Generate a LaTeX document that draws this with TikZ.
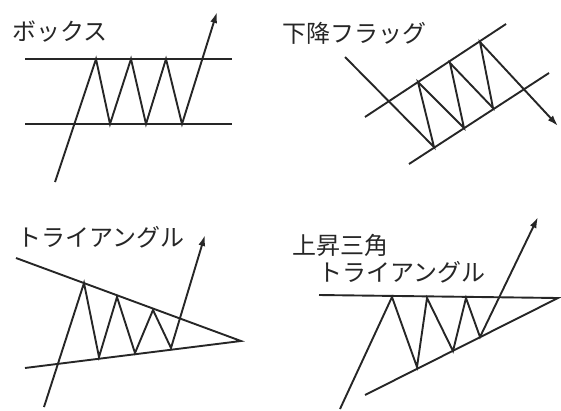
\documentclass[tikz,border=0pt]{standalone}
\usepackage{fontspec}
\newfontfamily\jpfont{Noto Sans CJK JP}
\usetikzlibrary{arrows.meta}
\tikzset{
  ln/.style={line width=1.9pt, draw=black!85},
  zz/.style={line width=1.9pt, draw=black!85, line join=miter},
  arr/.style={-{Latex[length=11pt,width=7pt]}},
  lbl/.style={anchor=west, inner sep=0pt, font=\jpfont\fontsize{24}{29}\selectfont, text=black!85}
}
\begin{document}
\begin{tikzpicture}[x=1pt,y=-1pt]
\useasboundingbox (0,0) rectangle (561,410);
% ---- Box
\node[lbl] (t1) at (12,32) {ボックス};
\coordinate (b1l) at (25,59); \coordinate (b1r) at (232,59);
\coordinate (b2l) at (25,124); \coordinate (b2r) at (232,124);
\draw[ln] (b1l) -- (b1r);
\draw[ln] (b2l) -- (b2r);
\coordinate (a0) at (55,182);
\coordinate (a1) at (96,59);
\coordinate (a2) at (110,124);
\coordinate (a3) at (131,59);
\coordinate (a4) at (146,124);
\coordinate (a5) at (166,59);
\coordinate (a6) at (182,124);
\coordinate (a7) at (217,12);
\draw[zz,arr] (a0) -- (a1) -- (a2) -- (a3) -- (a4) -- (a5) -- (a6) -- (a7);
% ---- Flag
\node[lbl] (t2) at (282,33) {下降フラッグ};
\coordinate (f1l) at (365,117); \coordinate (f1r) at (506,24);
\coordinate (f2l) at (409,164); \coordinate (f2r) at (549,73);
\draw[ln] (f1l) -- (f1r);
\draw[ln] (f2l) -- (f2r);
\coordinate (c0) at (345,57);
\coordinate (c1) at (434,147);
\coordinate (c2) at (418,82);
\coordinate (c3) at (464,128);
\coordinate (c4) at (450,63);
\coordinate (c5) at (493,108);
\coordinate (c6) at (480,42);
\coordinate (c7) at (558,126);
\draw[zz,arr] (c0) -- (c1) -- (c2) -- (c3) -- (c4) -- (c5) -- (c6) -- (c7);
% ---- Triangle
\node[lbl] (t3) at (17,237) {トライアングル};
\coordinate (g1l) at (16,258); \coordinate (gap) at (241,341);
\coordinate (g2l) at (25,368);
\draw[ln] (g1l) -- (gap) -- (g2l);
\coordinate (d0) at (44,407);
\coordinate (d1) at (84,283);
\coordinate (d2) at (99,357);
\coordinate (d3) at (117,297);
\coordinate (d4) at (135,353);
\coordinate (d5) at (153,310);
\coordinate (d6) at (171,348);
\coordinate (d7) at (205,235);
\draw[zz,arr] (d0) -- (d1) -- (d2) -- (d3) -- (d4) -- (d5) -- (d6) -- (d7);
% ---- Ascending triangle
\node[lbl] (t4) at (292,245) {上昇三角};
\node[lbl] (t5) at (318,272) {トライアングル};
\coordinate (h1l) at (319,295); \coordinate (hap) at (558,298);
\coordinate (h2l) at (365,395);
\draw[ln] (h1l) -- (hap) -- (h2l);
\coordinate (e0) at (340,409);
\coordinate (e1) at (392,297);
\coordinate (e2) at (417,367);
\coordinate (e3) at (427,298);
\coordinate (e4) at (453,351);
\coordinate (e5) at (466,298);
\coordinate (e6) at (480,337);
\coordinate (e7) at (538,217);
\draw[zz,arr] (e0) -- (e1) -- (e2) -- (e3) -- (e4) -- (e5) -- (e6) -- (e7);
\end{tikzpicture}
\end{document}
